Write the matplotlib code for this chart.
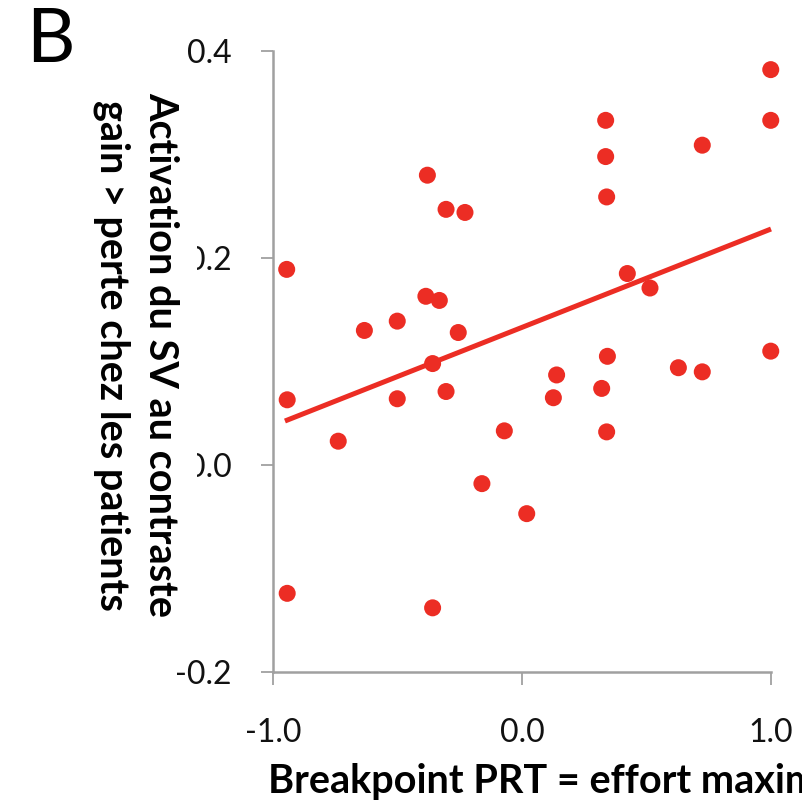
import matplotlib
matplotlib.use("Agg")
import matplotlib.pyplot as plt
from matplotlib.patches import Rectangle

# ---- data ----
breakpoint_prt = [-0.380, -0.305, -0.229, -0.945, -0.386, -0.332, -0.501, -0.633, -0.256, -0.359,
                  -0.943, -0.501, -0.305, -0.738, -0.071, -0.161, 0.019, -0.943, -0.359,
                  0.999, 0.999, 0.336, 0.336, 0.724, 0.340,
                  0.423, 0.514, 0.343, 0.139, 0.126, 0.320, 0.340, 0.628, 0.724, 0.999]
activation_sv = [0.280, 0.247, 0.244, 0.189, 0.163, 0.159, 0.139, 0.130, 0.128, 0.098,
                 0.063, 0.064, 0.071, 0.023, 0.033, -0.018, -0.047, -0.124, -0.138,
                 0.382, 0.333, 0.333, 0.298, 0.309, 0.259,
                 0.185, 0.171, 0.105, 0.087, 0.065, 0.074, 0.032, 0.094, 0.090, 0.110]
fit_x = [-0.952, 1.0]
fit_y = [0.0425, 0.228]

x_ticks = [-1.0, 0.0, 1.0]
x_ticklabels = ["-1.0", "0.0", "1.0"]
y_ticks = [-0.2, 0.0, 0.2, 0.4]
y_ticklabels = ["-0.2", "0.0", "0.2", "0.4"]

ylabel_text = "Activation du SV au contraste\ngain > perte chez les patients"
xlabel_text = "Breakpoint PRT = effort maximal"
panel_letter = "B"

RED = "#EC2D24"
GRAY = "#A0A0A0"
FONT = "Lato"

W = H = 802
fig = plt.figure(figsize=(8.02, 8.02), dpi=100)
ax = fig.add_axes([273 / W, 1 - 672 / H, (771 - 273) / W, (672 - 51) / H])
ax.set_xlim(-1.0, 1.0)
ax.set_ylim(-0.2, 0.4)

ax.plot(fit_x, fit_y, color=RED, lw=3.6, solid_capstyle="butt", zorder=2, clip_on=False)
ax.scatter(breakpoint_prt, activation_sv, s=150, color=RED, edgecolors="none", zorder=3, clip_on=False)

for side in ["top", "right"]:
    ax.spines[side].set_visible(False)
for side in ["left", "bottom"]:
    ax.spines[side].set_color(GRAY)
    ax.spines[side].set_linewidth(1.8)

ax.set_xticks(x_ticks)
ax.set_xticklabels(x_ticklabels, fontfamily=FONT, fontsize=23)
ax.set_yticks(y_ticks)
ax.set_yticklabels(y_ticklabels, fontfamily=FONT, fontsize=23)
ax.tick_params(axis="both", direction="out", length=9, width=1.3, color=GRAY, labelcolor="#111111")
ax.tick_params(axis="y", pad=21)
ax.tick_params(axis="x", pad=24)

# white mask over tick labels behind the y-label
fig.patches.append(Rectangle((80 / W, 1 - 630 / H), (197 - 80) / W, (630 - 85) / H,
                             transform=fig.transFigure, facecolor="white", edgecolor="none", zorder=5))

fig.text(136 / W, 1 - 355 / H, ylabel_text, rotation=-90, ha="center", va="center",
         multialignment="center", fontfamily=FONT, fontweight="bold", fontsize=28.5,
         linespacing=1.38, zorder=6)

fig.text(268 / W, 1 - 793 / H, xlabel_text, ha="left", va="baseline",
         fontfamily=FONT, fontweight="bold", fontsize=28.5, zorder=6)

fig.text(26 / W, 1 - 62 / H, panel_letter, ha="left", va="baseline",
         fontfamily=FONT, fontsize=54, zorder=6)

fig.savefig("out.png", dpi=100, facecolor="white")
